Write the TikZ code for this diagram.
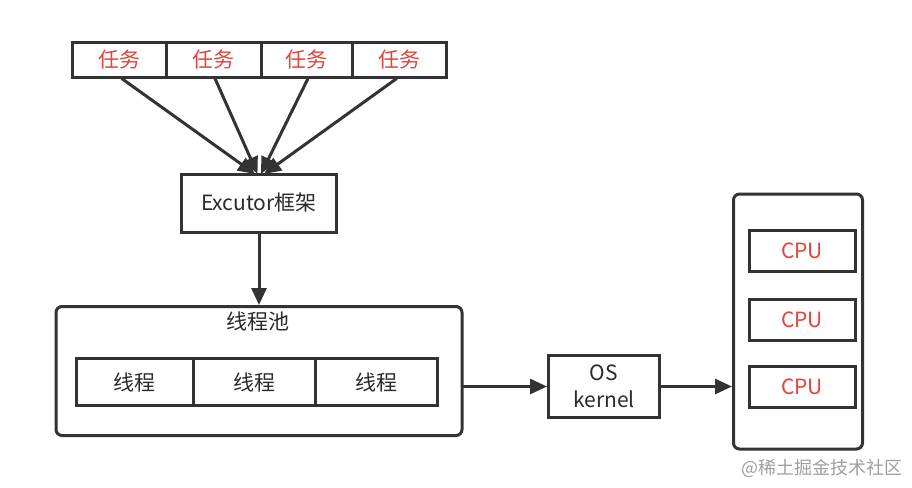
\documentclass[tikz,border=0pt]{standalone}
\usepackage{fontspec}
\setmainfont{Noto Sans CJK SC}
\usetikzlibrary{arrows.meta}
\definecolor{ln}{HTML}{333333}
\definecolor{rd}{HTML}{E5423A}
\definecolor{txt}{HTML}{2A2A2A}
\begin{document}
\begin{tikzpicture}[x=1pt,y=-1pt,
  box/.style={draw=ln, line width=3pt, inner sep=0pt, fill=white, font=\fontsize{21}{25}\selectfont, text=txt},
  rbox/.style={box, rounded corners=6pt},
  redtxt/.style={text=rd},
  arr/.style={draw=ln, line width=3pt, -{Triangle[length=17pt,width=15pt]}}
]
\useasboundingbox (0,0) rectangle (912,487);
% tasks
\node[box, redtxt, minimum width=94pt, minimum height=34pt] (t1) at (119,60) {任务};
\node[box, redtxt, minimum width=95pt, minimum height=34pt] (t2) at (213.5,60) {任务};
\node[box, redtxt, minimum width=91pt, minimum height=34pt] (t3) at (306.5,60) {任务};
\node[box, redtxt, minimum width=94pt, minimum height=34pt] (t4) at (399,60) {任务};
% executor
\node[box, minimum width=155pt, minimum height=58pt] (ex) at (259,203) {Excutor框架};
\coordinate (e1) at (255,174);
\coordinate (e2) at (257.5,174);
\coordinate (e3) at (261,174);
\coordinate (e4) at (264,174);
\draw[arr] (t1.south -| 121.7,0) -- (e1);
\draw[arr] (t2.south -| 215,0) -- (e2);
\draw[arr] (t3.south -| 308,0) -- (e3);
\draw[arr] (t4.south -| 396.7,0) -- (e4);
% pool
\node[rbox, minimum width=406pt, minimum height=129pt] (pool) at (259,371) {};
\node[font=\fontsize{21}{25}\selectfont, text=txt] (pl) at (258,321) {线程池};
\draw[arr] (ex.south) -- (pool.north);
\node[box, minimum width=117pt, minimum height=47pt] (th1) at (134.5,382) {线程};
\node[box, minimum width=122pt, minimum height=47pt] (th2) at (254,382) {线程};
\node[box, minimum width=122pt, minimum height=47pt] (th3) at (376,382) {线程};
% OS
\node[box, minimum width=111pt, minimum height=62pt, align=center, font=\fontsize{21}{27}\selectfont] (os) at (604,386.5) {OS\\kernel};
% CPUs
\node[rbox, minimum width=129pt, minimum height=255pt] (cpus) at (798,321.5) {};
\node[box, redtxt, minimum width=106pt, minimum height=41pt] (c1) at (802,251) {CPU};
\node[box, redtxt, minimum width=106pt, minimum height=41pt] (c2) at (802,320) {CPU};
\node[box, redtxt, minimum width=106pt, minimum height=41pt] (c3) at (802,387) {CPU};
\coordinate (ps) at ([xshift=-3pt]pool.east |- os.west);
\draw[arr] (ps) -- (os.west);
\draw[arr] (os.east) -- (cpus.west |- os.east);
% watermark
\node[font=\fontsize{18}{20}\selectfont, text=black!38] (wm) at (822,468) {@稀土掘金技术社区};
\end{tikzpicture}
\end{document}
